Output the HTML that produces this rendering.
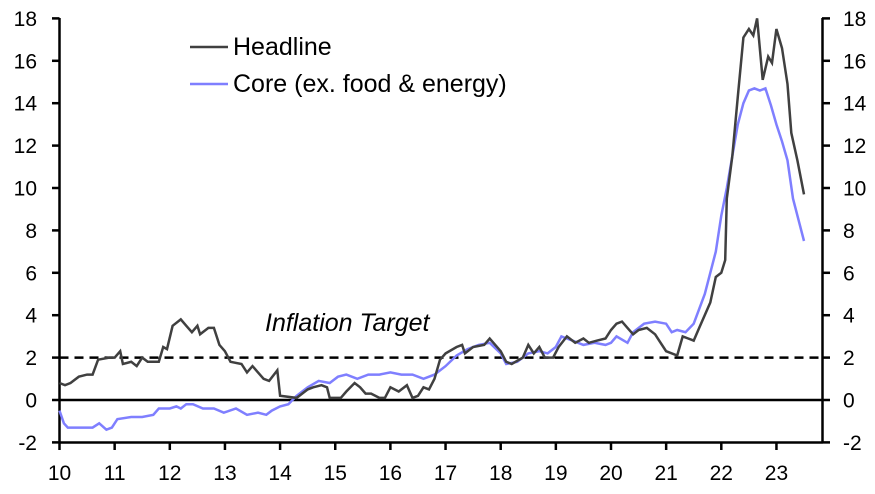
<!DOCTYPE html><html><head><style>body{margin:0;background:#fff}svg text{font-family:"Liberation Sans",sans-serif;font-size:21px;fill:#000}</style></head><body>
<svg id="s" width="875" height="489" xmlns="http://www.w3.org/2000/svg">
<g id="g"></g>
<line x1="59.5" y1="357.6" x2="822" y2="357.6" stroke="#000" stroke-width="2.5" stroke-dasharray="9,6"/>
<line x1="59.5" y1="400" x2="822" y2="400" stroke="#000" stroke-width="2.5"/>
<line x1="59.5" y1="18" x2="59.5" y2="443" stroke="#000" stroke-width="2.5"/>
<line x1="822.5" y1="18" x2="822.5" y2="443" stroke="#000" stroke-width="2.5"/>
<line x1="59.5" y1="442.5" x2="822.5" y2="442.5" stroke="#000" stroke-width="2.5"/>
<polyline id="core" fill="none" stroke="#7f7fff" stroke-width="2.5"/>
<polyline id="head" fill="none" stroke="#404040" stroke-width="2.5"/>
<line x1="190" y1="47" x2="228" y2="47" stroke="#404040" stroke-width="2.5"/>
<line x1="190" y1="84" x2="228" y2="84" stroke="#7f7fff" stroke-width="2.5"/>
<text x="233" y="55" style="font-size:25px">Headline</text>
<text x="233" y="92" style="font-size:25px">Core (ex. food &amp; energy)</text>
<text x="265" y="331" font-style="italic" style="font-size:25px">Inflation Target</text>
</svg>
<script>
const X=y=>59.5+(y-10)*55.15, Y=v=>400-v*21.2;
const g=document.getElementById('g');let h='';
for(let v=-2;v<=18;v+=2){const y=Y(v);h+=`<line x1="52" y1="${y}" x2="59.5" y2="${y}" stroke="#000" stroke-width="2.5"/><line x1="822" y1="${y}" x2="830" y2="${y}" stroke="#000" stroke-width="2.5"/><text x="37" y="${y+7.5}" text-anchor="end">${v}</text><text x="843" y="${y+7.5}">${v}</text>`;}
for(let yr=10;yr<=24;yr++){const x=X(yr);if(x>823)break;h+=`<line x1="${x}" y1="442" x2="${x}" y2="450" stroke="#000" stroke-width="2.5"/>`;if(yr<=23)h+=`<text x="${x}" y="480" text-anchor="middle">${yr}</text>`;}
g.innerHTML=h;
const H=[[10,0.8],[10.1,0.7],[10.2,0.8],[10.35,1.1],[10.5,1.2],[10.6,1.2],[10.7,1.9],[10.9,2.0],[11,2.0],[11.1,2.3],[11.15,1.7],[11.3,1.8],[11.4,1.6],[11.5,2.0],[11.6,1.8],[11.8,1.8],[11.88,2.5],[11.95,2.4],[12.05,3.5],[12.2,3.8],[12.3,3.5],[12.4,3.2],[12.5,3.5],[12.55,3.1],[12.7,3.4],[12.8,3.4],[12.9,2.6],[13,2.3],[13.1,1.8],[13.3,1.7],[13.4,1.3],[13.5,1.6],[13.6,1.3],[13.7,1.0],[13.8,0.9],[13.95,1.4],[14,0.2],[14.3,0.1],[14.5,0.5],[14.6,0.6],[14.75,0.7],[14.85,0.6],[14.9,0.1],[15.1,0.1],[15.2,0.4],[15.35,0.8],[15.45,0.6],[15.55,0.3],[15.65,0.3],[15.8,0.1],[15.9,0.1],[16,0.6],[16.15,0.4],[16.3,0.7],[16.4,0.1],[16.5,0.2],[16.6,0.6],[16.7,0.5],[16.8,1.0],[16.9,1.9],[17,2.2],[17.2,2.5],[17.3,2.6],[17.35,2.2],[17.5,2.5],[17.7,2.6],[17.8,2.9],[18,2.3],[18.1,1.8],[18.2,1.7],[18.4,2.0],[18.5,2.6],[18.6,2.2],[18.7,2.5],[18.8,2.0],[18.95,2.0],[19.05,2.5],[19.2,3.0],[19.35,2.7],[19.5,2.9],[19.6,2.7],[19.75,2.8],[19.9,2.9],[20,3.3],[20.1,3.6],[20.2,3.7],[20.3,3.4],[20.4,3.1],[20.5,3.3],[20.65,3.4],[20.8,3.1],[20.9,2.7],[21,2.3],[21.2,2.1],[21.3,3.0],[21.4,2.9],[21.5,2.8],[21.6,3.4],[21.8,4.6],[21.9,5.8],[22,6.0],[22.07,6.6],[22.1,9.5],[22.2,11.5],[22.3,14.3],[22.4,17.1],[22.5,17.5],[22.58,17.2],[22.65,18.0],[22.75,15.1],[22.85,16.2],[22.92,15.9],[23,17.5],[23.1,16.6],[23.2,14.9],[23.27,12.6],[23.38,11.3],[23.5,9.7]];
const C=[[10,-0.5],[10.08,-1.1],[10.15,-1.3],[10.6,-1.3],[10.72,-1.1],[10.85,-1.4],[10.95,-1.3],[11.05,-0.9],[11.3,-0.8],[11.5,-0.8],[11.7,-0.7],[11.8,-0.4],[12,-0.4],[12.12,-0.3],[12.2,-0.4],[12.3,-0.2],[12.42,-0.2],[12.6,-0.4],[12.8,-0.4],[12.98,-0.6],[13.2,-0.4],[13.4,-0.7],[13.6,-0.6],[13.75,-0.7],[13.85,-0.5],[14,-0.3],[14.15,-0.2],[14.3,0.2],[14.5,0.6],[14.7,0.9],[14.9,0.8],[15.05,1.1],[15.2,1.2],[15.4,1.0],[15.6,1.2],[15.8,1.2],[16,1.3],[16.2,1.2],[16.4,1.2],[16.6,1.0],[16.8,1.2],[17,1.6],[17.2,2.1],[17.4,2.4],[17.6,2.6],[17.8,2.7],[18,2.2],[18.1,1.7],[18.3,1.8],[18.5,2.2],[18.7,2.3],[18.85,2.2],[19,2.5],[19.1,3.0],[19.3,2.8],[19.5,2.6],[19.7,2.7],[19.9,2.6],[20,2.7],[20.1,3.0],[20.3,2.7],[20.4,3.2],[20.6,3.6],[20.8,3.7],[21,3.6],[21.1,3.2],[21.2,3.3],[21.35,3.2],[21.5,3.6],[21.7,5.0],[21.9,7.0],[22,8.7],[22.1,10.0],[22.2,11.5],[22.3,13.0],[22.4,14.0],[22.5,14.6],[22.6,14.7],[22.7,14.6],[22.8,14.7],[22.9,13.9],[23,13.0],[23.1,12.2],[23.2,11.3],[23.3,9.5],[23.4,8.5],[23.5,7.5]];
const p=a=>a.map(([t,v])=>X(t).toFixed(1)+','+Y(v).toFixed(1)).join(' ');
document.getElementById('head').setAttribute('points',p(H));
document.getElementById('core').setAttribute('points',p(C));
</script></body></html>
